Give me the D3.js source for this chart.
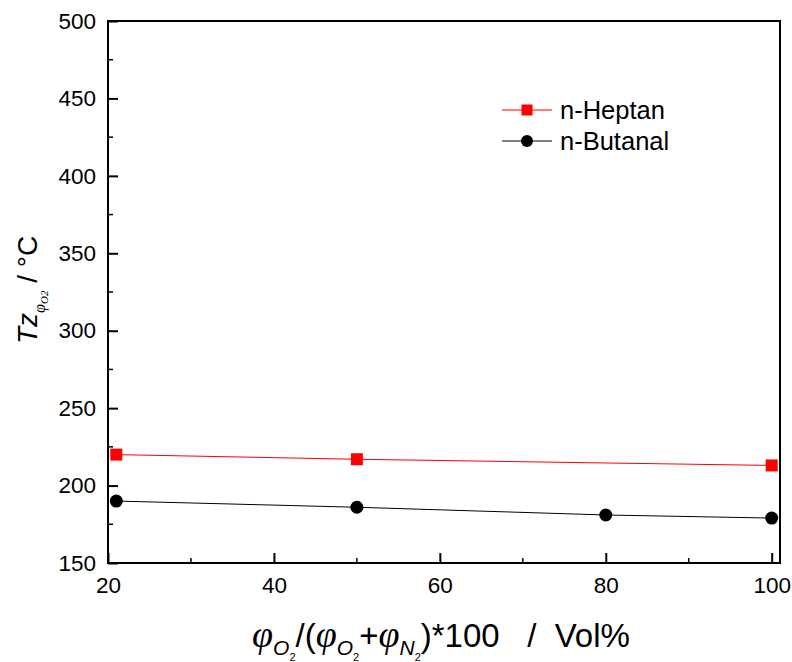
<!DOCTYPE html>
<html lang="en">
<head>
<meta charset="UTF-8">
<title>Tz vs O2 fraction</title>
<script src="https://d3js.org/d3.v7.min.js"></script>
<style>
  body { margin: 0; background: #fff; }
  text { font-family: "Liberation Sans", Arial, sans-serif; }
</style>
</head>
<body>
<div id="chart"></div>
<script>
// data
const heptanX = [21, 50, 100];
const heptanY = [220, 217, 213];
const butanalX = [21, 50, 80, 100];
const butanalY = [190, 186, 181, 179];
const xTicks = [20, 40, 60, 80, 100];
const yTicks = [150, 200, 250, 300, 350, 400, 450, 500];
const seriesNames = ["n-Heptan", "n-Butanal"];

const W = 792, H = 662;
const margin = { top: 21, right: 12, bottom: 99, left: 108 };
const width = W - margin.left - margin.right,
      height = H - margin.top - margin.bottom;

const svg = d3.select("#chart").append("svg")
    .attr("width", W).attr("height", H);

const g = svg.append("g")
    .attr("transform", `translate(${margin.left},${margin.top})`);

const x = d3.scaleLinear().domain([20, 101]).range([0, width]);
const y = d3.scaleLinear().domain([150, 500]).range([height, 0]);

// minor ticks
const xMinor = d3.range(30, 101, 20);
const yMinor = d3.range(175, 500, 50);

g.append("g").selectAll("line").data(xMinor).enter().append("line")
    .attr("x1", d => x(d)).attr("x2", d => x(d))
    .attr("y1", height).attr("y2", height - 5)
    .attr("stroke", "#000").attr("stroke-width", 1.5);
g.append("g").selectAll("line").data(yMinor).enter().append("line")
    .attr("y1", d => y(d)).attr("y2", d => y(d))
    .attr("x1", 0).attr("x2", 5)
    .attr("stroke", "#000").attr("stroke-width", 1.5);

// axes (ticks inward)
const xAxis = g.append("g")
    .attr("transform", `translate(0,${height})`)
    .call(d3.axisBottom(x).tickValues(xTicks).tickSizeInner(-10).tickSizeOuter(0).tickPadding(14));
const yAxis = g.append("g")
    .call(d3.axisLeft(y).tickValues(yTicks).tickSizeInner(-10).tickSizeOuter(0).tickPadding(12));

[xAxis, yAxis].forEach(a => {
    a.select(".domain").remove();
    a.selectAll(".tick line").attr("stroke", "#000").attr("stroke-width", 2);
    a.selectAll(".tick text")
        .attr("fill", "#000")
        .style("font-size", "22.5px")
        .style("font-family", "'Liberation Sans', Arial, sans-serif");
});

// frame
g.append("rect")
    .attr("x", 0).attr("y", 0)
    .attr("width", width).attr("height", height)
    .attr("fill", "none").attr("stroke", "#000").attr("stroke-width", 2);

const line = d3.line().x(d => x(d[0])).y(d => y(d[1]));
const hep = heptanX.map((v, i) => [v, heptanY[i]]);
const but = butanalX.map((v, i) => [v, butanalY[i]]);

g.append("path").datum(hep).attr("d", line)
    .attr("fill", "none").attr("stroke", "#ff0000").attr("stroke-width", 1);
g.append("path").datum(but).attr("d", line)
    .attr("fill", "none").attr("stroke", "#000").attr("stroke-width", 1);

const sq = 12;
g.selectAll(".sq").data(hep).enter().append("rect")
    .attr("x", d => x(d[0]) - sq / 2).attr("y", d => y(d[1]) - sq / 2)
    .attr("width", sq).attr("height", sq).attr("fill", "#ff0000");
g.selectAll(".ci").data(but).enter().append("circle")
    .attr("cx", d => x(d[0])).attr("cy", d => y(d[1]))
    .attr("r", 6.5).attr("fill", "#000");

// legend
const leg = svg.append("g").attr("transform", "translate(502,110)");
leg.append("line").attr("x1", 0).attr("x2", 50).attr("y1", 0).attr("y2", 0)
    .attr("stroke", "#ff0000").attr("stroke-width", 1);
leg.append("rect").attr("x", 25 - 5.5).attr("y", -5.5).attr("width", 11).attr("height", 11)
    .attr("fill", "#ff0000");
leg.append("text").attr("x", 58).attr("y", 9).text(seriesNames[0])
    .style("font-size", "25.5px");
leg.append("line").attr("x1", 0).attr("x2", 50).attr("y1", 31).attr("y2", 31)
    .attr("stroke", "#000").attr("stroke-width", 1);
leg.append("circle").attr("cx", 25).attr("cy", 31).attr("r", 6).attr("fill", "#000");
leg.append("text").attr("x", 58).attr("y", 40).text(seriesNames[1])
    .style("font-size", "25.5px");

// x axis title, built piece by piece with sub/subsub offsets
const xt = svg.append("text")
    .attr("x", 252).attr("y", 647)
    .style("font-size", "33px");
let cur = 0;
function piece(t, txt, off, size, italic, serif) {
    const s = t.append("tspan").attr("dy", off - cur).text(txt);
    if (size) s.style("font-size", size + "px");
    if (italic) s.style("font-style", "italic");
    if (serif) s.style("font-family", "'Liberation Serif', serif");
    cur = off;
}
function phi(letter) {
    piece(xt, "φ", 0, 38, true, true);
    piece(xt, letter, 8, 21, true);
    piece(xt, "2", 14, 11);
}
phi("O");
piece(xt, "/(", 0);
phi("O");
piece(xt, "+", 0);
phi("N");
piece(xt, ")*100\u00a0\u00a0\u00a0/\u00a0\u00a0Vol%", 0);

// y axis title
const yt = svg.append("text")
    .attr("transform", "translate(37,344) rotate(-90)")
    .style("font-size", "28px");
yt.append("tspan").style("font-style", "italic").text("Tz");
yt.append("tspan").attr("dy", 8)
    .style("font-size", "16px").style("font-style", "italic")
    .style("font-family", "'Liberation Serif', serif").text("φ");
yt.append("tspan").attr("dy", 3)
    .style("font-size", "11px").style("font-style", "italic")
    .style("font-family", "'Liberation Serif', serif").text("O2");
yt.append("tspan").attr("dy", -11).text("\u00a0/\u00a0°C");
</script>
</body>
</html>
